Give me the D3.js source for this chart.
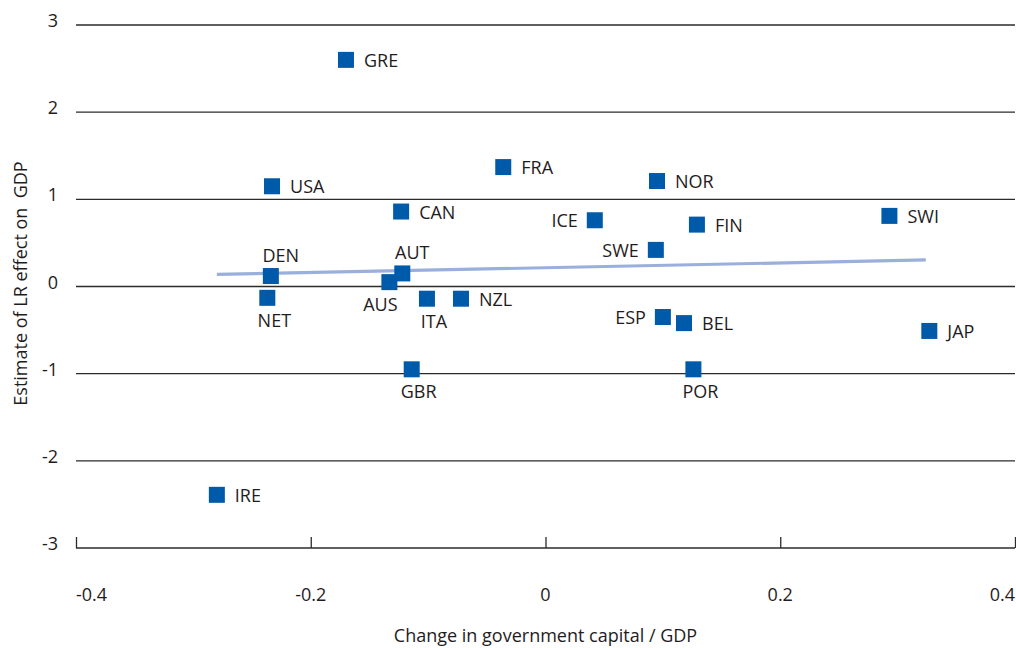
<!DOCTYPE html>
<html>
<head>
<meta charset="utf-8">
<title>Government capital and LR effect on GDP</title>
<script src="https://d3js.org/d3.v7.min.js"></script>
<style>
  body { margin: 0; background: #fff; }
  text { font-family: "Open Sans", "Noto Sans", sans-serif; fill: #1f1c1d; white-space: pre; }
</style>
</head>
<body>
<script>
// Country codes, x = change in government capital / GDP, y = estimated LR effect on GDP
const countries = ["GRE", "USA", "CAN", "DEN", "AUT", "AUS", "NET", "ITA", "NZL", "GBR", "IRE",
                   "FRA", "NOR", "ICE", "FIN", "SWI", "SWE", "ESP", "BEL", "JAP", "POR"];
const capitalChange = [-0.170, -0.233, -0.123, -0.234, -0.122, -0.133, -0.237, -0.101, -0.072, -0.114, -0.280,
                       -0.036, 0.095, 0.042, 0.129, 0.293, 0.094, 0.100, 0.118, 0.327, 0.126];
const lrEffect = [2.60, 1.15, 0.86, 0.12, 0.15, 0.05, -0.13, -0.14, -0.14, -0.95, -2.39,
                  1.37, 1.21, 0.76, 0.71, 0.81, 0.42, -0.35, -0.42, -0.51, -0.95];
// where each label sits relative to its marker
const labelSide = ["r", "r", "r", "t", "t", "bl", "b", "b", "r", "b", "r",
                   "r", "r", "l", "r", "r", "l", "l", "r", "r", "b"];

// fitted trend line end points
const trendX = [-0.280, 0.324];
const trendY = [0.138, 0.305];

const xTicks = [-0.4, -0.2, 0, 0.2, 0.4];
const yTicks = [-3, -2, -1, 0, 1, 2, 3];

const width = 1016, height = 648;
const margin = {top: 25, right: 1, bottom: 100, left: 76};
const fontSize = 18;

const svg = d3.select("body").append("svg")
    .attr("width", width)
    .attr("height", height);

const x = d3.scaleLinear()
    .domain([-0.4, 0.4])
    .range([margin.left, width - margin.right]);
const y = d3.scaleLinear()
    .domain([-3, 3])
    .range([height - margin.bottom, margin.top]);

// horizontal gridlines (the -3 line doubles as the x axis)
svg.append("g")
  .selectAll("line")
  .data(yTicks)
  .join("line")
    .attr("x1", x(-0.4))
    .attr("x2", x(0.4))
    .attr("y1", d => y(d))
    .attr("y2", d => y(d))
    .attr("stroke", "#2b2b2b")
    .attr("stroke-width", 1.3);

// y tick labels
svg.append("g")
  .selectAll("text")
  .data(yTicks)
  .join("text")
    .attr("x", 58)
    .attr("y", d => y(d) - 5)
    .attr("text-anchor", "end")
    .attr("dominant-baseline", "central")
    .attr("font-size", fontSize)
    .text(d => d);

// x axis: ticks pointing up
const xAxis = svg.append("g")
    .attr("transform", `translate(0,${y(-3)})`)
    .call(d3.axisTop(x).tickValues(xTicks).tickSize(11).tickSizeOuter(0).tickFormat(""));
xAxis.select(".domain").remove();
xAxis.selectAll(".tick line").attr("stroke", "#2b2b2b").attr("stroke-width", 1.3);

svg.append("g")
  .selectAll("text")
  .data(xTicks)
  .join("text")
    .attr("x", d => x(d))
    .attr("y", y(-3) + 46)
    .attr("text-anchor", (d, i) => i === 0 ? "start" : (i === xTicks.length - 1 ? "end" : "middle"))
    .attr("dominant-baseline", "central")
    .attr("font-size", fontSize)
    .text(d => d);

// axis titles
svg.append("text")
    .attr("x", x(0))
    .attr("y", 635)
    .attr("text-anchor", "middle")
    .attr("dominant-baseline", "central")
    .attr("font-size", fontSize)
    .text("Change in government capital / GDP");

svg.append("text")
    .attr("transform", `translate(20,${y(0) - 3}) rotate(-90)`)
    .attr("text-anchor", "middle")
    .attr("dominant-baseline", "central")
    .attr("font-size", fontSize)
    .text("Estimate of LR effect on  GDP");

// trend line
svg.append("path")
    .datum(d3.zip(trendX, trendY))
    .attr("fill", "none")
    .attr("stroke", "#9aafdc")
    .attr("stroke-width", 3.2)
    .attr("d", d3.line().x(d => x(d[0])).y(d => y(d[1])));

// markers
const data = countries.map((c, i) => ({name: c, gx: capitalChange[i], ge: lrEffect[i], side: labelSide[i]}));
const size = 16;

svg.append("g")
  .selectAll("rect")
  .data(data)
  .join("rect")
    .attr("x", d => x(d.gx) - size / 2)
    .attr("y", d => y(d.ge) - size / 2)
    .attr("width", size)
    .attr("height", size)
    .attr("fill", "#005aaa");

// labels
const dxBySide = {r: 18, l: -17, t: 10, b: 7, bl: -9};
const dyBySide = {r: 0, l: 0, t: -21, b: 22, bl: 22};
const anchorBySide = {r: "start", l: "end", t: "middle", b: "middle", bl: "middle"};

svg.append("g")
  .selectAll("text")
  .data(data)
  .join("text")
    .attr("x", d => x(d.gx) + dxBySide[d.side])
    .attr("y", d => y(d.ge) + dyBySide[d.side])
    .attr("text-anchor", d => anchorBySide[d.side])
    .attr("dominant-baseline", "central")
    .attr("font-size", fontSize)
    .text(d => d.name);
</script>
</body>
</html>
